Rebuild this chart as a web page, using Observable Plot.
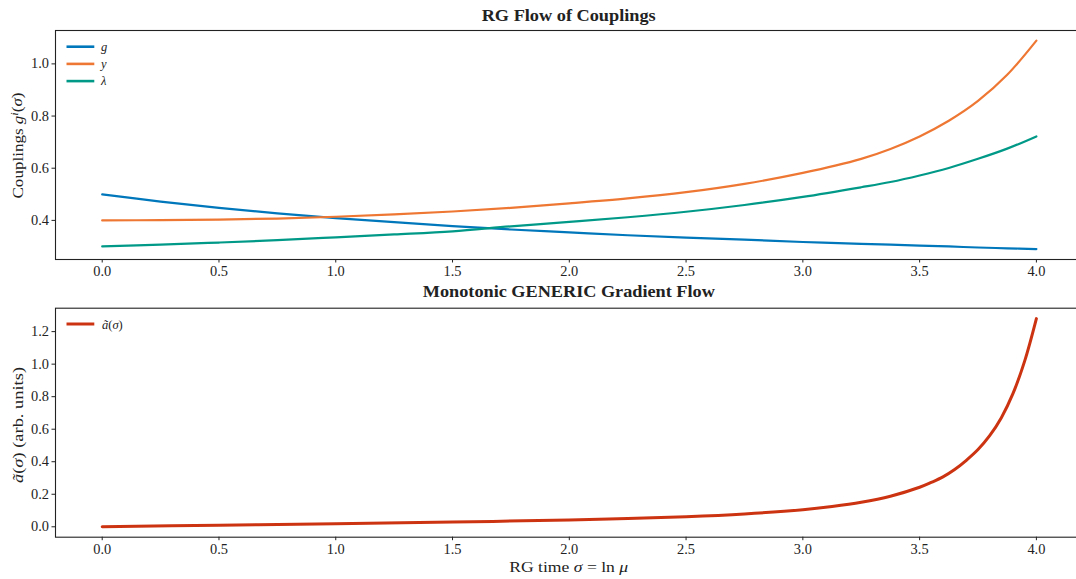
<!DOCTYPE html>
<html><head><meta charset="utf-8">
<script src="https://cdn.jsdelivr.net/npm/d3@7"></script>
<script src="https://cdn.jsdelivr.net/npm/@observablehq/plot@0.6"></script>
<style>
html,body{margin:0;padding:0;background:#fff;overflow:hidden;}
#chart svg{display:block;}
</style></head><body><div id="chart"></div>
<script>
// ---- data ----
const sigma   = [0, 0.25, 0.5, 0.75, 1.0, 1.25, 1.5, 1.75, 2.0, 2.25, 2.5, 2.75, 3.0, 3.25, 3.375, 3.5, 3.625, 3.75, 3.875, 4.0];
const gVals   = [0.500, 0.472, 0.448, 0.427, 0.409, 0.393, 0.378, 0.365, 0.354, 0.343, 0.334, 0.326, 0.317, 0.310, 0.307, 0.303, 0.300, 0.296, 0.293, 0.290];
const yVals   = [0.400, 0.401, 0.403, 0.407, 0.414, 0.423, 0.434, 0.448, 0.465, 0.484, 0.508, 0.540, 0.582, 0.636, 0.674, 0.722, 0.782, 0.858, 0.958, 1.089];
const lamVals = [0.300, 0.307, 0.315, 0.324, 0.335, 0.346, 0.358, 0.377, 0.394, 0.412, 0.433, 0.459, 0.490, 0.527, 0.547, 0.572, 0.601, 0.636, 0.675, 0.722];
const sigmaA  = [0, 0.5, 1.0, 1.5, 2.0, 2.25, 2.5, 2.75, 3.0, 3.125, 3.25, 3.375, 3.5, 3.55, 3.6, 3.65, 3.7, 3.75, 3.8, 3.85, 3.9, 3.95, 4.0];
const aVals   = [0.000, 0.010, 0.019, 0.029, 0.042, 0.051, 0.062, 0.079, 0.105, 0.125, 0.151, 0.188, 0.243, 0.273, 0.307, 0.352, 0.409, 0.475, 0.560, 0.671, 0.820, 1.020, 1.280];

const seriesNames  = ["g", "y", "λ"];
const seriesValues = [gVals, yVals, lamVals];
const seriesColors = ["#0077BB", "#EE7733", "#009988"];
const aColor = "#CC3311";

const xTicks = [0, 0.5, 1.0, 1.5, 2.0, 2.5, 3.0, 3.5, 4.0];
const yTicksTop = [0.4, 0.6, 0.8, 1.0];
const yTicksBottom = [0.0, 0.2, 0.4, 0.6, 0.8, 1.0, 1.2];

const topTitle = "RG Flow of Couplings";
const bottomTitle = "Monotonic GENERIC Gradient Flow";

// ---- build tables ----
const rowsTop = [];
seriesNames.forEach((name, k) => sigma.forEach((s, i) => rowsTop.push({sigma: s, value: seriesValues[k][i], series: name})));
const rowsA = sigmaA.map((s, i) => ({sigma: s, value: aVals[i]}));

const FONT = "'Liberation Serif', 'DejaVu Serif', serif";
const INK = "#222";
const TICKFS = 14.4;

function axes(yt) {
  return [
    Plot.axisX({ticks: xTicks, tickFormat: d3.format(".1f"), tickSize: 3.5, tickPadding: 3, fontSize: TICKFS, label: null, stroke: INK, fill: INK}),
    Plot.axisY({ticks: yt, tickFormat: d3.format(".1f"), tickSize: 3.5, tickPadding: 3, fontSize: TICKFS, label: null, stroke: INK, fill: INK})
  ];
}

const p1 = Plot.plot({
  width: 1076, height: 290,
  marginLeft: 55, marginRight: -6.6, marginTop: 30, marginBottom: 31,
  style: {fontFamily: FONT, fontSize: TICKFS + "px", color: INK, background: "#fff", overflow: "visible"},
  x: {domain: [-0.2, 4.2]},
  y: {domain: [0.25, 1.128]},
  color: {domain: seriesNames, range: seriesColors},
  marks: [
    ...axes(yTicksTop),
    Plot.line(rowsTop, {x: "sigma", y: "value", z: "series", stroke: "series", strokeWidth: 2.2, curve: "catmull-rom"}),
    Plot.frame({stroke: INK, strokeWidth: 1.1})
  ]
});

const p2 = Plot.plot({
  width: 1076, height: 289,
  marginLeft: 55, marginRight: -6.6, marginTop: 17.7, marginBottom: 42.3,
  style: {fontFamily: FONT, fontSize: TICKFS + "px", color: INK, background: "#fff", overflow: "visible"},
  x: {domain: [-0.2, 4.2]},
  y: {domain: [-0.064, 1.344]},
  marks: [
    ...axes(yTicksBottom),
    Plot.line(rowsA, {x: "sigma", y: "value", stroke: aColor, strokeWidth: 3, curve: "catmull-rom"}),
    Plot.frame({stroke: INK, strokeWidth: 1.1})
  ]
});

// enforce tick label font size
[p1, p2].forEach(svg => {
  d3.select(svg).attr("font-size", TICKFS).style("font-size", TICKFS + "px");
  d3.select(svg).selectAll("g[aria-label$='tick label'], g[aria-label$='tick label'] text")
    .attr("font-size", TICKFS).style("font-size", TICKFS + "px").attr("font-family", FONT);
});

// ---- rich text helper ----
function rich(svg, parts, attrs) {
  const t = d3.select(svg).append("text")
    .attr("font-family", FONT).attr("fill", INK).attr("text-anchor", "start");
  Object.entries(attrs).forEach(([k, v]) => t.attr(k, v));
  if (attrs["font-size"]) t.style("font-size", attrs["font-size"] + "px");
  parts.forEach(p => {
    const s = t.append("tspan").text(p.t);
    if (p.i) s.attr("font-style", "italic");
    if (p.sup) s.attr("dy", "-0.42em").attr("font-size", "72%").style("font-size", "72%");
    if (p.unsup) s.attr("dy", "0.3em");
  });
  return t;
}

// top panel texts
rich(p1, [{t: topTitle}], {x: 568.7, y: 20.7, "text-anchor": "middle", "font-weight": "bold", "font-size": 16, textLength: 174, lengthAdjust: "spacingAndGlyphs"});
rich(p1, [{t: "Couplings "}, {t: "g", i: 1}, {t: "i", i: 1, sup: 1}, {t: "(", unsup: 1}, {t: "σ", i: 1}, {t: ")"}],
  {transform: "translate(22.5,145.5) rotate(-90)", "text-anchor": "middle", "font-size": 15, textLength: 106, lengthAdjust: "spacingAndGlyphs"});

// top legend
const leg1 = d3.select(p1).append("g");
seriesNames.forEach((name, k) => {
  const yy = 46.7 + k * 17.2;
  leg1.append("line").attr("x1", 66.5).attr("x2", 94.3).attr("y1", yy).attr("y2", yy)
    .attr("stroke", seriesColors[k]).attr("stroke-width", 2.6);
  rich(leg1.node(), [{t: name, i: 1}], {x: 101, y: yy + 3.8, "font-size": 12.5});
});

// bottom panel texts
rich(p2, [{t: bottomTitle}], {x: 568.8, y: 6.7, "text-anchor": "middle", "font-weight": "bold", "font-size": 16, textLength: 292, lengthAdjust: "spacingAndGlyphs"});
rich(p2, [{t: "ã", i: 1}, {t: "("}, {t: "σ", i: 1}, {t: ") (arb. units)"}],
  {transform: "translate(22.5,135) rotate(-90)", "text-anchor": "middle", "font-size": 15, textLength: 116, lengthAdjust: "spacingAndGlyphs"});
rich(p2, [{t: "RG time "}, {t: "σ", i: 1}, {t: " = ln "}, {t: "μ", i: 1}],
  {x: 568.7, y: 281.7, "text-anchor": "middle", "font-size": 15, textLength: 119, lengthAdjust: "spacingAndGlyphs"});

// bottom legend
const leg2 = d3.select(p2).append("g");
leg2.append("line").attr("x1", 66.5).attr("x2", 94.3).attr("y1", 34).attr("y2", 34)
  .attr("stroke", aColor).attr("stroke-width", 3);
rich(leg2.node(), [{t: "ã", i: 1}, {t: "("}, {t: "σ", i: 1}, {t: ")"}], {x: 102, y: 38.5, "font-size": 12.5});

const root = document.getElementById("chart");
root.appendChild(p1);
root.appendChild(p2);
</script>
</body></html>
